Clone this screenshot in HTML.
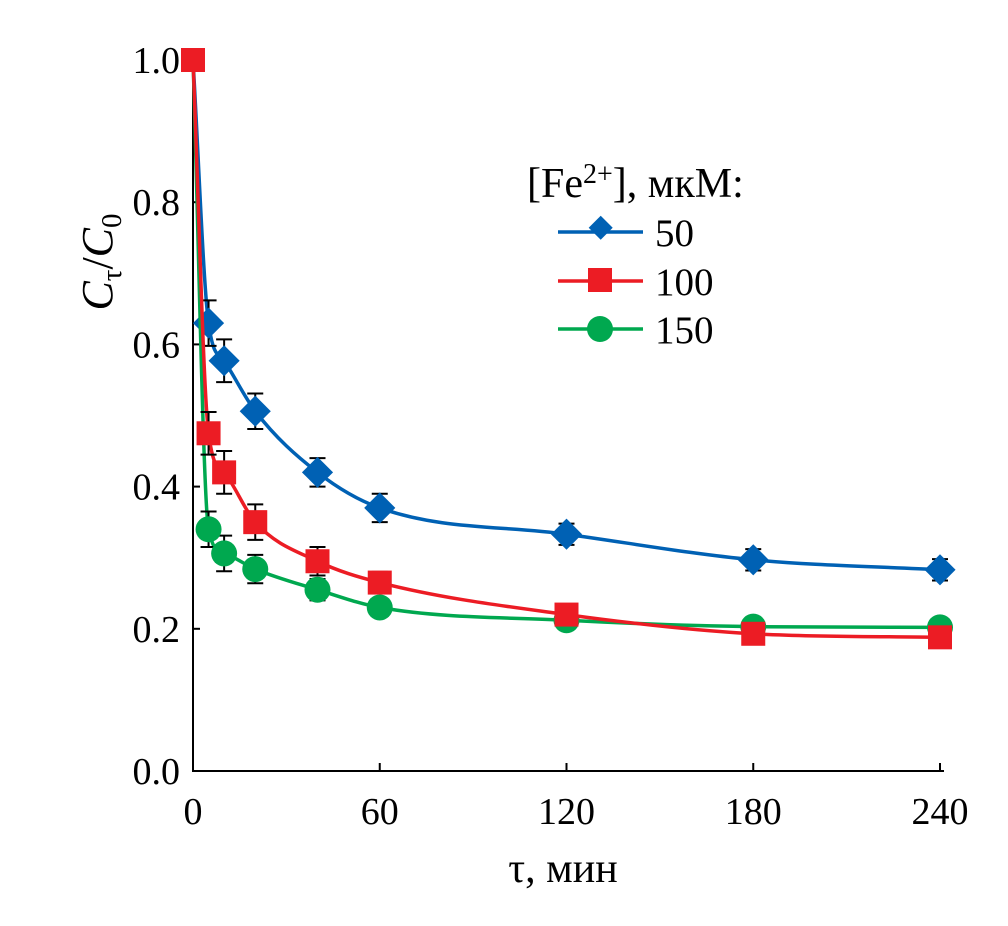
<!DOCTYPE html>
<html><head><meta charset="utf-8"><style>
html,body{margin:0;padding:0;background:#fff}
svg text{font-family:"Liberation Serif","DejaVu Serif",serif;fill:#000}
</style></head><body>
<svg id="chart" width="1008" height="921" viewBox="0 0 1008 921" xmlns="http://www.w3.org/2000/svg">
<g id="axes"></g>
<g id="series"></g>
<g>
<text x="527" y="197" font-size="42">[Fe<tspan font-size="28" dy="-14">2+</tspan><tspan dy="14">], мкМ:</tspan></text>
<g><line x1="558" y1="232" x2="643" y2="232" stroke="#0061b4" stroke-width="3.5"/><rect x="589" y="220" width="17" height="17" transform="rotate(45 600 232)" fill="#0061b4"/><text x="655" y="246" font-size="39">50</text></g>
<g><line x1="558" y1="281" x2="643" y2="281" stroke="#ec1c24" stroke-width="3.5"/><rect x="588" y="268" width="24" height="24" fill="#ec1c24"/><text x="655" y="295" font-size="39">100</text></g>
<g><line x1="558" y1="329" x2="643" y2="329" stroke="#00a84f" stroke-width="3.5"/><circle cx="600" cy="329" r="13" fill="#00a84f"/><text x="655" y="343" font-size="39">150</text></g>
</g>
<text x="563" y="882" font-size="42" text-anchor="middle">τ, мин</text>
<text transform="translate(112,262) rotate(-90)" font-size="44" text-anchor="middle"><tspan font-style="italic">C</tspan><tspan font-size="29" dy="9">τ</tspan><tspan dy="-9">/</tspan><tspan font-style="italic">C</tspan><tspan font-size="29" dy="9">0</tspan></text>
</svg>
<script>
const times=[0,5,10,20,40,60,120,180,240];
const s50=[1.0,0.63,0.577,0.506,0.42,0.37,0.333,0.297,0.283];
const s100=[1.0,0.475,0.42,0.35,0.295,0.265,0.22,0.193,0.188];
const s150=[1.0,0.34,0.306,0.284,0.255,0.23,0.212,0.203,0.202];
const e50=[0,0.032,0.03,0.025,0.02,0.02,0.015,0.015,0.015];
const e100=[0,0.03,0.03,0.025,0.02,0.015,0.012,0.01,0.01];
const e150=[0,0.025,0.025,0.02,0.015,0.012,0.01,0.01,0.01];
const xTicks=[0,60,120,180,240];
const yTicks=[0,0.2,0.4,0.6,0.8,1.0];
const NS='http://www.w3.org/2000/svg';
const X=v=>193+v*(940-193)/240;
const Y=v=>771-v*711;
function mk(p,t,a){const e=document.createElementNS(NS,t);for(const k in a)e.setAttribute(k,a[k]);p.appendChild(e);return e;}
const ax=document.getElementById('axes');
let l=mk(ax,'path',{d:`M${X(0)},${Y(1.0)-2}V${Y(0)}H${X(240)+4}`,fill:'none',stroke:'#000','stroke-width':2});


yTicks.forEach(v=>{
 const t=mk(ax,'line',{x1:X(0),x2:X(0)+7,y1:Y(v),y2:Y(v),stroke:'#000','stroke-width':2});
 
 
 const tx=mk(ax,'text',{x:X(0)-13,y:Y(v)+13,'font-size':38,'text-anchor':'end'});
 tx.textContent=v.toFixed(1);
 
 
});
xTicks.forEach(v=>{
 const t=mk(ax,'line',{x1:X(v),x2:X(v),y1:Y(0),y2:Y(0)-8,stroke:'#000','stroke-width':2});
 
 
 const tx=mk(ax,'text',{x:X(v),y:824,'font-size':38,'text-anchor':'middle'});
 tx.textContent=v;
 
 
});
function smooth(pts){
 const n=pts.length,d=[],m=[];
 for(let i=0;i<n-1;i++)d.push((pts[i+1][1]-pts[i][1])/(pts[i+1][0]-pts[i][0]));
 m[0]=d[0];m[n-1]=d[n-2];
 for(let i=1;i<n-1;i++){m[i]=(d[i-1]*d[i]<=0)?0:(d[i-1]+d[i])/2;}
 for(let i=0;i<n-1;i++){
  if(d[i]===0){m[i]=m[i+1]=0;continue;}
  const a=m[i]/d[i],b=m[i+1]/d[i],s=a*a+b*b;
  if(s>9){const t=3/Math.sqrt(s);m[i]=t*a*d[i];m[i+1]=t*b*d[i];}
 }
 let p=`M${pts[0][0]},${pts[0][1]}`;
 for(let i=0;i<n-1;i++){
  const h=(pts[i+1][0]-pts[i][0])/3;
  p+=` C${pts[i][0]+h},${pts[i][1]+m[i]*h} ${pts[i+1][0]-h},${pts[i+1][1]-m[i+1]*h} ${pts[i+1][0]},${pts[i+1][1]}`;
 }
 return p;
}
const sg=document.getElementById('series');
function draw(vals,errs,color,shape,name,skipFirst){
 const g=mk(sg,'g',{});
 
 
 const pts=times.map((t,i)=>[X(t),Y(vals[i])]);
 const p=mk(g,'path',{d:smooth(pts),fill:'none',stroke:color,'stroke-width':3.5});
 
 
 times.forEach((t,i)=>{
  if(errs[i]>0){
   const x=X(t),y1=Y(vals[i]+errs[i]),y2=Y(vals[i]-errs[i]);
   const e=mk(g,'path',{d:`M${x},${y1}V${y2}M${x-8},${y1}H${x+8}M${x-8},${y2}H${x+8}`,stroke:'#000','stroke-width':2,fill:'none'});
   
   
  }
 });
 times.forEach((t,i)=>{
  if(skipFirst&&i===0)return;
  const x=X(t),y=Y(vals[i]);let m;
  if(shape==='d')m=mk(g,'rect',{x:x-11,y:y-11,width:22,height:22,fill:color,transform:`rotate(45 ${x} ${y})`});
  else if(shape==='s')m=mk(g,'rect',{x:x-12,y:y-12,width:24,height:24,fill:color});
  else m=mk(g,'circle',{cx:x,cy:y,r:13,fill:color});
  
  
 });
}
draw(s50,e50,'#0061b4','d','50',true);
draw(s150,e150,'#00a84f','c','150',true);
draw(s100,e100,'#ec1c24','s','100',false);
</script>
</body></html>
